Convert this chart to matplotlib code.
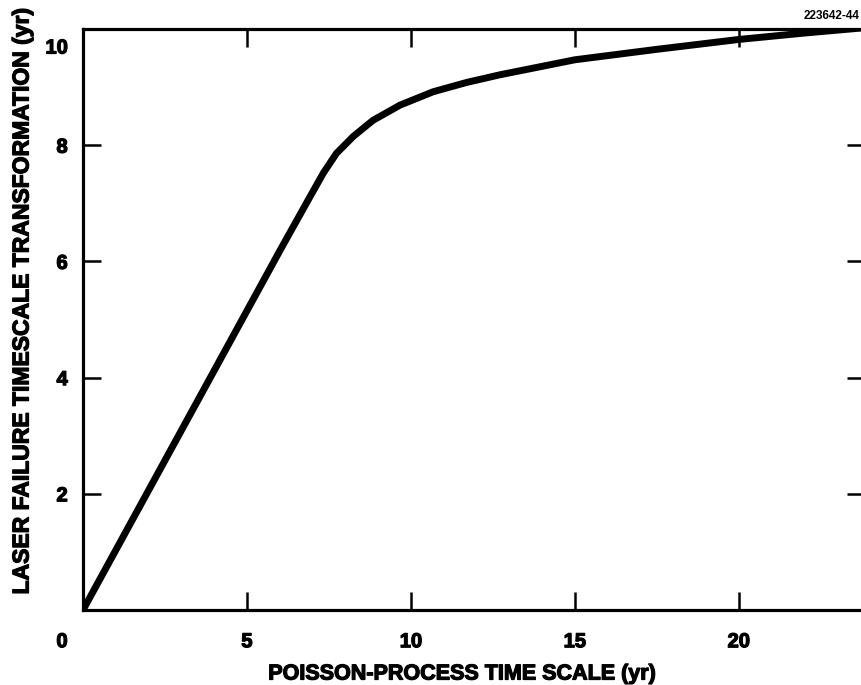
import matplotlib.pyplot as plt
import matplotlib.transforms as mtransforms
import matplotlib.patheffects as pe

# values
poisson_t = [0, 2, 4, 6, 6.92, 7.33, 7.73, 8.24, 8.85, 9.67, 10.68, 11.7, 12.7, 15, 17.5, 20, 22, 23.8]
laser_t = [0, 2.06, 4.12, 6.18, 7.11, 7.52, 7.86, 8.15, 8.43, 8.69, 8.92, 9.08, 9.21, 9.47, 9.65, 9.82, 9.93, 10.02]
x_ticks = [0, 5, 10, 15, 20]
y_ticks = [2, 4, 6, 8, 10]

plt.rcParams['font.family'] = ['Liberation Sans', 'DejaVu Sans']
plt.rcParams['font.weight'] = 'bold'
heavy = [pe.withStroke(linewidth=0.9, foreground='black')]

fig = plt.figure(figsize=(8.62, 6.85), dpi=100)
ax = fig.add_axes([83/862, 75/685, 782/862, 581/685])

ax.plot(poisson_t, laser_t, color='black', lw=5, solid_capstyle='round',
        solid_joinstyle='round')

ax.set_xlim(0, 23.85)
ax.set_ylim(0, 10)
ax.set_xticks(x_ticks)
ax.set_yticks(y_ticks)
ax.set_xticklabels([str(v) for v in x_ticks])
ax.set_yticklabels([str(v) for v in y_ticks])

for s in ax.spines.values():
    s.set_linewidth(2.3)

ax.tick_params(direction='in', length=13, width=1.8, top=True, right=True,
               labelsize=14.5, pad=16)
ax.tick_params(axis='y', pad=11)

for lbl in ax.get_xticklabels() + ax.get_yticklabels():
    lbl.set_path_effects(heavy)

# the "0" and "10" labels sit off their ticks in the original
lbl0 = ax.get_xticklabels()[0]
lbl0.set_transform(lbl0.get_transform() + mtransforms.ScaledTranslation(-21/100, 0, fig.dpi_scale_trans))
lbl10 = ax.get_yticklabels()[-1]
lbl10.set_transform(lbl10.get_transform() + mtransforms.ScaledTranslation(0, -17/100, fig.dpi_scale_trans))

xl = ax.set_xlabel('POISSON-PROCESS TIME SCALE (yr)', fontsize=15.5, fontweight='bold', va='center')
yl = ax.set_ylabel('LASER FAILURE TIMESCALE TRANSFORMATION (yr)', fontsize=16.5, fontweight='bold', va='center')
xl.set_path_effects(heavy)
yl.set_path_effects(heavy)
ax.xaxis.set_label_coords((461 - 83) / 782, -(674 - 610) / 581)
ax.yaxis.set_label_coords(-(83 - 22) / 782, (610 - 302) / 581)

# figure id in the top right corner
fig.text(804/862, 1 - 16/685, '223642-44', fontsize=8.5, fontweight='bold', va='center')

fig.savefig('out.png', dpi=100)
